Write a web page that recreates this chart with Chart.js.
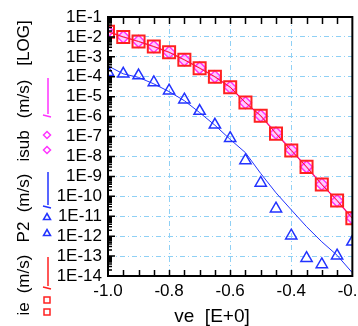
<!DOCTYPE html>
<html>
<head>
<meta charset="utf-8">
<script src="https://cdn.jsdelivr.net/npm/chart.js@4"></script>
<style>
  html, body { margin:0; padding:0; background:#fff; overflow:hidden; width:358px; height:326px; }
  #wrap { width:372px; height:326px; }
</style>
</head>
<body>
<div id="wrap"><canvas id="graf" width="372" height="326"></canvas></div>
<script>
// data
const ve = [-1.0, -0.95, -0.9, -0.85, -0.8, -0.75, -0.7, -0.65, -0.6, -0.55, -0.5, -0.45, -0.4, -0.35, -0.3, -0.25, -0.2];
const ie = [1.8e-2, 1.0e-2, 5.9e-3, 3.3e-3, 1.7e-3, 7.1e-4, 2.7e-4, 1.0e-4, 3.0e-5, 5.1e-6, 1.1e-6, 1.4e-7, 2.0e-8, 3.0e-9, 3.9e-10, 6.2e-11, 7.9e-12];
const isub = [1.9e-2, 1.0e-2, 6.0e-3, 3.2e-3, 1.7e-3, 7.0e-4, 2.8e-4, 1.0e-4, 3.0e-5, 5.0e-6, 1.1e-6, 1.5e-7, 2.1e-8, 3.0e-9, 4.0e-10, 6.0e-11, 8.0e-12];
const p2 = [1.7e-4, 1.4e-4, 1.15e-4, 5.2e-5, 2.0e-5, 7.1e-6, 1.9e-6, 3.9e-7, 8.3e-8, 6.3e-9, 4.7e-10, 2.4e-11, 1.05e-12, 7.8e-14, 3.8e-14, 1.05e-13, 5.2e-13];
const p2Line = [3.5e-4, 1.4e-4, 9.3e-5, 4.4e-5, 1.8e-5, 6.3e-6, 1.6e-6, 3.7e-7, 7.2e-8, 1.55e-8, 1.4e-9, 1.5e-10, 2.1e-11, 3.0e-12, 5.2e-13, 1.1e-13, 1.45e-14];

const xTickLabels = ['-1.0', '-0.8', '-0.6', '-0.4', '-0.2'];
const yTickLabels = ['1E-1', '1E-2', '1E-3', '1E-4', '1E-5', '1E-6', '1E-7', '1E-8', '1E-9', '1E-10', '1E-11', '1E-12', '1E-13', '1E-14'];

const RED = '#ff2020', BLUE = '#2233ff', MAG = '#ff33ff', GRID = '#8fd0f5';
const FONT = '"Liberation Sans", Arial, sans-serif';

const pts = arr => ve.map((x, i) => ({x: x, y: arr[i]}));

// box + inner ticks
const frame = {
  id: 'frame',
  afterDraw(chart) {
    const {ctx, chartArea: a, scales: {x, y}} = chart;
    ctx.save();
    ctx.strokeStyle = '#000';
    ctx.lineWidth = 1.5;
    ctx.beginPath();
    for (let k = 1; k < 16; k++) {
      const px = Math.round(x.getPixelForValue(-1 + k * 0.05)) + 0.5;
      ctx.moveTo(px, a.top); ctx.lineTo(px, a.top + 7);
      ctx.moveTo(px, a.bottom); ctx.lineTo(px, a.bottom - 6);
    }
    for (let e = -14; e <= -2; e++) {
      for (let m = 1; m <= 9; m++) {
        const py = y.getPixelForValue(m * Math.pow(10, e));
        const len = m === 1 ? 7 : 4;
        ctx.moveTo(a.left, py); ctx.lineTo(a.left + len, py);
      }
    }
    ctx.stroke();
    ctx.lineWidth = 2;
    ctx.strokeRect(a.left, a.top, a.right - a.left, a.bottom - a.top);
    ctx.restore();
  }
};

// axis titles, the y one carries the legend marks
const titles = {
  id: 'titles',
  afterDraw(chart) {
    const ctx = chart.ctx;
    ctx.save();
    ctx.fillStyle = '#000';
    ctx.textAlign = 'center';
    ctx.textBaseline = 'alphabetic';
    ctx.font = '19px ' + FONT;
    ctx.fillText('ve  [E+0]', 212, 322);

    ctx.font = '17px ' + FONT;
    const pieces = [['ie', 309], ['(m/s)', 274], ['P2', 232], ['(m/s)', 193], ['isub', 146], ['(m/s)', 99], ['[LOG]', 43]];
    pieces.forEach(p => {
      ctx.save();
      ctx.translate(29, p[1]);
      ctx.rotate(-Math.PI / 2);
      ctx.fillText(p[0], 0, 0);
      ctx.restore();
    });

    const sample = (col, y0, y1) => {
      ctx.strokeStyle = col;
      ctx.lineWidth = 1.5;
      ctx.beginPath();
      ctx.moveTo(48, y0); ctx.lineTo(48, y1);
      ctx.moveTo(43, y1 + 1); ctx.lineTo(51, y1 + 3);
      ctx.stroke();
    };
    sample(MAG, 78, 114);
    sample(BLUE, 172, 205);
    sample(RED, 257, 286);

    ctx.lineWidth = 1.5;
    ctx.strokeStyle = MAG;
    [135, 150].forEach(yy => {
      ctx.beginPath();
      ctx.moveTo(47, yy - 3.5); ctx.lineTo(50.5, yy); ctx.lineTo(47, yy + 3.5); ctx.lineTo(43.5, yy);
      ctx.closePath(); ctx.stroke();
    });
    ctx.strokeStyle = BLUE;
    [217, 233].forEach(yy => {
      ctx.beginPath();
      ctx.moveTo(47, yy - 3.5); ctx.lineTo(50.5, yy + 2.5); ctx.lineTo(43.5, yy + 2.5);
      ctx.closePath(); ctx.stroke();
    });
    ctx.strokeStyle = RED;
    [300, 312].forEach(yy => ctx.strokeRect(44, yy - 3, 6, 6));
    ctx.restore();
  }
};

const ctx = document.getElementById('graf').getContext('2d');

const graf = new Chart(ctx, {
  type: 'line',
  data: {
    datasets: [
      {
        label: 'P2 line',
        data: pts(p2Line),
        borderColor: BLUE,
        borderWidth: 1,
        pointRadius: 0,
        tension: 0
      },
      {
        label: 'P2',
        data: pts(p2),
        showLine: false,
        pointStyle: 'triangle',
        pointRadius: 6.5,
        pointBorderColor: BLUE,
        pointBackgroundColor: 'rgba(0,0,0,0)',
        pointBorderWidth: 1.5
      },
      {
        label: 'ie',
        data: pts(ie),
        borderColor: RED,
        borderWidth: 1,
        pointStyle: 'rect',
        pointRadius: 8.5,
        pointBorderColor: RED,
        pointBackgroundColor: 'rgba(0,0,0,0)',
        pointBorderWidth: 2
      },
      {
        label: 'isub',
        data: pts(isub),
        borderColor: MAG,
        borderWidth: 1.5,
        pointStyle: 'rectRot',
        pointRadius: 6,
        pointBorderColor: MAG,
        pointBackgroundColor: 'rgba(255,170,255,0.6)',
        pointBorderWidth: 1.5
      }
    ]
  },
  options: {
    responsive: false,
    animation: false,
    devicePixelRatio: 1,
    layout: { padding: { top: 17, right: 0, left: 0, bottom: 0 } },
    plugins: { legend: { display: false }, tooltip: { enabled: false } },
    scales: {
      x: {
        type: 'linear',
        min: -1.0,
        max: -0.2,
        afterBuildTicks: s => { s.ticks = xTickLabels.map(l => ({value: Number(l)})); },
        afterFit: s => { s.height = 50; },
        ticks: {
          color: '#000',
          font: { size: 17, family: FONT },
          padding: 5,
          maxRotation: 0,
          callback: v => xTickLabels.find(l => Number(l) === v)
        },
        grid: {
          drawTicks: false,
          color: c => (c.tick && (c.tick.value === -1.0 || c.tick.value === -0.2)) ? 'rgba(0,0,0,0)' : GRID,
          lineWidth: 1
        },
        border: { display: false, dash: [5, 3, 1, 3] }
      },
      y: {
        type: 'logarithmic',
        min: 1e-14,
        max: 1e-1,
        afterBuildTicks: s => { s.ticks = yTickLabels.map(l => ({value: Number(l)})); },
        afterFit: s => { s.width = 108; },
        ticks: {
          color: '#000',
          font: { size: 17, family: FONT },
          padding: 6,
          autoSkip: false,
          callback: v => yTickLabels.find(l => Math.abs(Math.log10(Number(l)) - Math.log10(v)) < 1e-6)
        },
        grid: {
          drawTicks: false,
          color: c => (c.tick && (c.tick.value === 1e-14 || c.tick.value === 1e-1)) ? 'rgba(0,0,0,0)' : GRID,
          lineWidth: 1
        },
        border: { display: false, dash: [5, 3, 1, 3] }
      }
    }
  },
  plugins: [frame, titles]
});
</script>
</body>
</html>
